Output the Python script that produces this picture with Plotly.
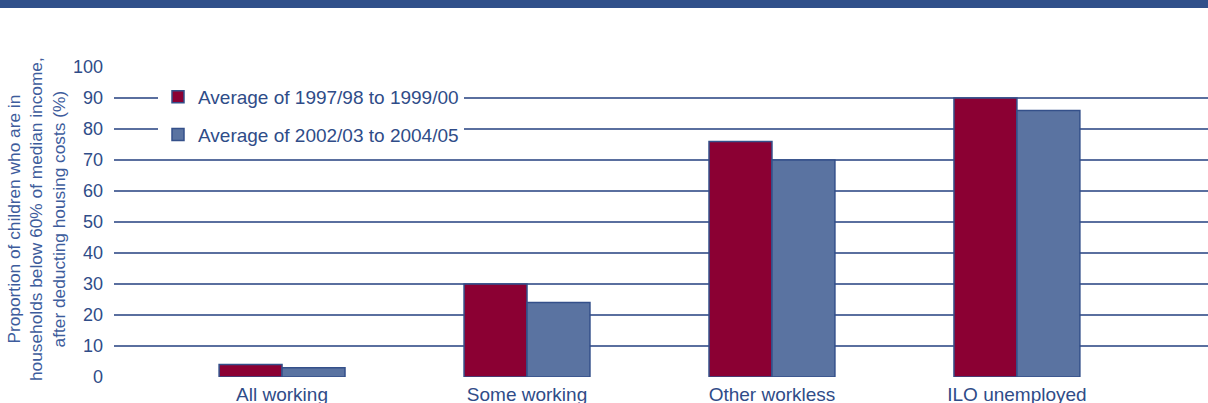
import plotly.graph_objects as go

categories = ["All working", "Some working", "Other workless", "ILO unemployed"]
series_names = ["Average of 1997/98 to 1999/00", "Average of 2002/03 to 2004/05"]
values_9700 = [4, 30, 76, 90]
values_0205 = [3, 24, 70, 86]
y_ticks = [0, 10, 20, 30, 40, 50, 60, 70, 80, 90, 100]

TEXT = "#2f4c88"
GRID = "#5a6f9f"
RED = "#8b0033"
BLUE = "#5a73a1"
EDGE = "#34508a"

W, H = 1208, 403
L, R, T, B = 114, 0, 67, 26
pw = W - L - R
ph = H - T - B

fig = go.Figure()
fig.add_trace(go.Bar(x=categories, y=values_9700, name=series_names[0],
                     marker=dict(color=RED, line=dict(color=EDGE, width=1.5)),
                     legendgroup="a"))
fig.add_trace(go.Bar(x=categories, y=values_0205, name=series_names[1],
                     marker=dict(color=BLUE, line=dict(color=EDGE, width=1.5)),
                     legendgroup="b"))

fig.update_layout(
    width=W, height=H,
    margin=dict(l=L, r=R, t=T, b=B, pad=0, autoexpand=False),
    paper_bgcolor="white", plot_bgcolor="white",
    font=dict(family="Liberation Sans, Arial, sans-serif", color=TEXT, size=18),
    barmode="group", bargap=0.486, bargroupgap=0,
    showlegend=True,
    legend=dict(x=(158 - L) / pw, y=(H - B - 78) / ph, xanchor="left", yanchor="top",
                bgcolor="white", borderwidth=0, font=dict(size=19, color=TEXT),
                traceorder="grouped", tracegroupgap=10, itemwidth=30),
    xaxis=dict(type="category", range=[-0.686, 3.78], showgrid=False,
               showline=False, zeroline=False, ticks="", automargin=False,
               tickfont=dict(size=19, color=TEXT), ticklabelstandoff=4),
    yaxis=dict(range=[0, 100], tickvals=y_ticks, showgrid=True, automargin=False,
               gridcolor=GRID, gridwidth=1.6, zeroline=False, showline=False,
               ticks="", ticklabelstandoff=10,
               tickfont=dict(size=18, color=TEXT)),
    shapes=[dict(type="rect", xref="paper", yref="paper",
                 x0=-L / pw - 0.01, x1=1.01,
                 y0=(H - B - 8) / ph, y1=(H - B) / ph + 0.01,
                 fillcolor="#30508a", line=dict(width=0), layer="above")],
    annotations=[dict(text="Proportion of children who are in<br>households below 60% of median income,<br>after deducting housing costs (%)",
                      xref="paper", yref="paper", x=(36 - L) / pw, y=(H - B - 219) / ph,
                      xanchor="center", yanchor="middle", textangle=-90,
                      showarrow=False, font=dict(size=17.3, color="#3d5c9c"))],
)

fig.write_html("out.html", config={"displayModeBar": False},
               post_script="document.body.style.margin='0';document.body.style.overflow='hidden';")
